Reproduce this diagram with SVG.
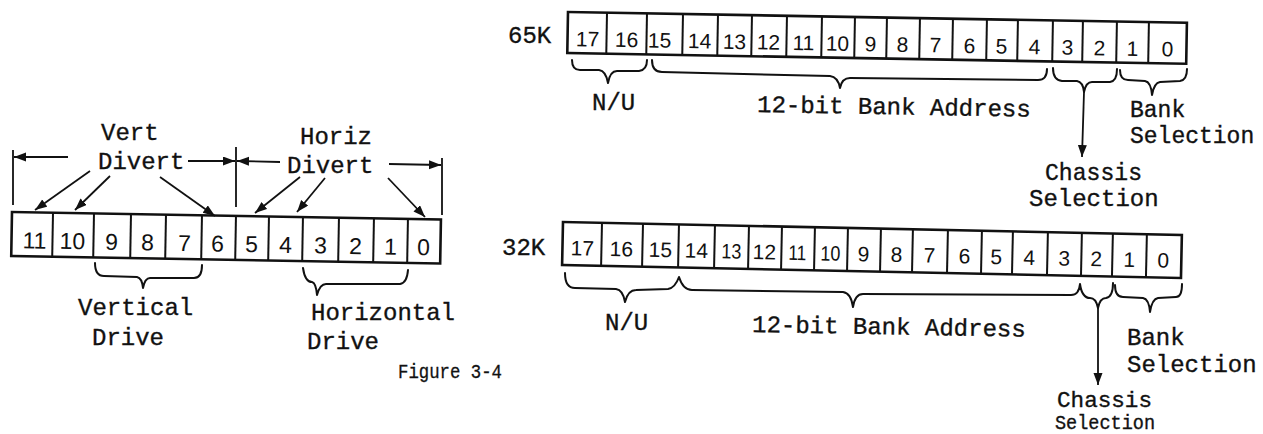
<svg xmlns="http://www.w3.org/2000/svg" width="1263" height="434" viewBox="0 0 1263 434">
<style>
.bg{fill:#fff}
.box{fill:none;stroke:#111;stroke-width:2.6}
.div{stroke:#111;stroke-width:2}
.dg{font-family:"Liberation Sans",Arial,sans-serif;fill:#111;text-anchor:middle}
.lb{font-family:"Liberation Mono","Courier New",monospace;font-size:24px;fill:#111;stroke:#111;stroke-width:0.35}
.br{fill:none;stroke:#111;stroke-width:2;stroke-linejoin:round;stroke-linecap:round}
.ln{fill:none;stroke:#111;stroke-width:1.8}
</style>
<defs>
<marker id="ah" markerUnits="userSpaceOnUse" markerWidth="13" markerHeight="10" refX="12" refY="4.5" orient="auto">
<path d="M0,0 L12,4.5 L0,9 z" fill="#111"/>
</marker>
</defs>
<rect class="bg" x="0" y="0" width="1263" height="434"/>

<g id="left-register" transform="rotate(1 12 212)">
<rect class="box" x="12" y="212" width="429" height="44"/>
<g class="div">
<line x1="53" y1="212" x2="53" y2="256"/><line x1="94" y1="212" x2="94" y2="256"/>
<line x1="131" y1="212" x2="131" y2="256"/><line x1="166" y1="212" x2="166" y2="256"/>
<line x1="202" y1="212" x2="202" y2="256"/><line x1="236" y1="212" x2="236" y2="256"/>
<line x1="269" y1="212" x2="269" y2="256"/><line x1="303" y1="212" x2="303" y2="256"/>
<line x1="339" y1="212" x2="339" y2="256"/><line x1="374" y1="212" x2="374" y2="256"/>
<line x1="408" y1="212" x2="408" y2="256"/>
</g>
<g class="dg" font-size="23">
<text x="35" y="248">11</text><text x="73" y="248">10</text><text x="112" y="248">9</text>
<text x="148" y="248">8</text><text x="185" y="248">7</text><text x="218" y="248">6</text>
<text x="252" y="248">5</text><text x="286" y="248">4</text><text x="321" y="248">3</text>
<text x="356" y="248">2</text><text x="391" y="248">1</text><text x="424" y="248">0</text>
</g>
</g>

<g id="left-labels">
<text class="lb" x="101" y="140">Vert</text>
<text class="lb" x="98" y="169">Divert</text>
<text class="lb" x="300" y="144">Horiz</text>
<text class="lb" x="287" y="173">Divert</text>
<text class="lb" x="78" y="315">Vertical</text>
<text class="lb" x="92" y="345">Drive</text>
<text class="lb" x="311" y="320">Horizontal</text>
<text class="lb" x="307" y="349">Drive</text>
</g>

<g id="left-connectors">
<line class="ln" x1="13" y1="150" x2="13" y2="205"/>
<line class="ln" x1="236" y1="147" x2="236" y2="207"/>
<line class="ln" x1="442" y1="158" x2="442" y2="215"/>
<line class="ln" x1="68" y1="157" x2="14" y2="157" marker-end="url(#ah)"/>
<line class="ln" x1="188" y1="161" x2="235" y2="161" marker-end="url(#ah)"/>
<line class="ln" x1="280" y1="162" x2="237" y2="161" marker-end="url(#ah)"/>
<line class="ln" x1="389" y1="164" x2="441" y2="165" marker-end="url(#ah)"/>
<line class="ln" x1="90" y1="171" x2="35" y2="210" marker-end="url(#ah)"/>
<line class="ln" x1="110" y1="176" x2="75" y2="210" marker-end="url(#ah)"/>
<line class="ln" x1="160" y1="177" x2="215" y2="216" marker-end="url(#ah)"/>
<line class="ln" x1="300" y1="177" x2="255" y2="213" marker-end="url(#ah)"/>
<line class="ln" x1="325" y1="178" x2="297" y2="212" marker-end="url(#ah)"/>
<line class="ln" x1="388" y1="178" x2="425" y2="217" marker-end="url(#ah)"/>
<path class="br" d="M95,263 Q95,276 104,276 L137,277 Q142,278 143,288 Q145,278 150,278 L194,278 Q202,278 202,265"/>
<path class="br" d="M303,268 Q305,282 312,282 Q316,283 317,295 Q320,284 326,284 L400,284 Q407,283 408,270"/>
</g>

<g id="fig-caption">
<text class="lb" x="398" y="378" style="font-size:20px;stroke-width:0.3" textLength="104" lengthAdjust="spacingAndGlyphs">Figure 3-4</text>
</g>

<g id="reg65k">
<text class="lb" x="508" y="43">65K</text>
<g transform="rotate(1 568 12)">
<rect class="box" x="568" y="12" width="619" height="41"/>
<g class="div">
<line x1="607" y1="12" x2="607" y2="53"/><line x1="647" y1="12" x2="647" y2="53"/>
<line x1="683" y1="12" x2="683" y2="53"/><line x1="718" y1="12" x2="718" y2="53"/>
<line x1="752" y1="12" x2="752" y2="53"/><line x1="787" y1="12" x2="787" y2="53"/>
<line x1="822" y1="12" x2="822" y2="53"/><line x1="855" y1="12" x2="855" y2="53"/>
<line x1="887" y1="12" x2="887" y2="53"/><line x1="920" y1="12" x2="920" y2="53"/>
<line x1="953" y1="12" x2="953" y2="53"/><line x1="987" y1="12" x2="987" y2="53"/>
<line x1="1018" y1="12" x2="1018" y2="53"/><line x1="1053" y1="12" x2="1053" y2="53"/>
<line x1="1083" y1="12" x2="1083" y2="53"/><line x1="1117" y1="12" x2="1117" y2="53"/>
<line x1="1149" y1="12" x2="1149" y2="53"/>
</g>
<g class="dg" font-size="21">
<text x="588" y="46">17</text><text x="627" y="46">16</text><text x="660" y="46">15</text>
<text x="700" y="46">14</text><text x="735" y="46">13</text><text x="769" y="46">12</text>
<text x="804" y="46">11</text><text x="838" y="46">10</text><text x="871" y="46">9</text>
<text x="903" y="46">8</text><text x="936" y="46">7</text><text x="970" y="46">6</text>
<text x="1002" y="46">5</text><text x="1035" y="46">4</text><text x="1068" y="46">3</text>
<text x="1100" y="46">2</text><text x="1133" y="46">1</text><text x="1168" y="46">0</text>
</g>
</g>
<text class="lb" x="592" y="110">N/U</text>
<text class="lb" x="757" y="112" transform="rotate(1 757 112)">12-bit Bank Address</text>
<text class="lb" x="1130" y="117" style="font-size:23px">Bank</text>
<text class="lb" x="1130" y="143" style="font-size:23px">Selection</text>
<text class="lb" x="1045" y="180" textLength="97" lengthAdjust="spacingAndGlyphs">Chassis</text>
<text class="lb" x="1029" y="206">Selection</text>
</g>

<g id="reg32k">
<text class="lb" x="502" y="255">32K</text>
<g transform="rotate(1.2 563 222)">
<rect class="box" x="563" y="222" width="619" height="43"/>
<g class="div">
<line x1="602" y1="222" x2="602" y2="265"/><line x1="643" y1="222" x2="643" y2="265"/>
<line x1="679" y1="222" x2="679" y2="265"/><line x1="715" y1="222" x2="715" y2="265"/>
<line x1="749" y1="222" x2="749" y2="265"/><line x1="782" y1="222" x2="782" y2="265"/>
<line x1="815" y1="222" x2="815" y2="265"/><line x1="848" y1="222" x2="848" y2="265"/>
<line x1="881" y1="222" x2="881" y2="265"/><line x1="913" y1="222" x2="913" y2="265"/>
<line x1="948" y1="222" x2="948" y2="265"/><line x1="982" y1="222" x2="982" y2="265"/>
<line x1="1013" y1="222" x2="1013" y2="265"/><line x1="1048" y1="222" x2="1048" y2="265"/>
<line x1="1082" y1="222" x2="1082" y2="265"/><line x1="1113" y1="222" x2="1113" y2="265"/>
<line x1="1147" y1="222" x2="1147" y2="265"/>
</g>
<g class="dg" font-size="21">
<text x="583" y="255">17</text><text x="622" y="255">16</text><text x="661" y="255">15</text>
<text x="697" y="255">14</text><text x="732" y="255" textLength="20" lengthAdjust="spacingAndGlyphs">13</text><text x="765" y="255">12</text>
<text x="798" y="255" textLength="18" lengthAdjust="spacingAndGlyphs">11</text><text x="831" y="255" textLength="20" lengthAdjust="spacingAndGlyphs">10</text><text x="864" y="255">9</text>
<text x="897" y="255">8</text><text x="930" y="255">7</text><text x="965" y="255">6</text>
<text x="997" y="255">5</text><text x="1030" y="255">4</text><text x="1065" y="255">3</text>
<text x="1097" y="255">2</text><text x="1130" y="255">1</text><text x="1164" y="255">0</text>
</g>
</g>
<text class="lb" x="605" y="330">N/U</text>
<text class="lb" x="752" y="332" transform="rotate(1 752 332)">12-bit Bank Address</text>
<text class="lb" x="1127" y="345">Bank</text>
<text class="lb" x="1127" y="372">Selection</text>
<text class="lb" x="1057" y="407" style="font-size:22px" textLength="95" lengthAdjust="spacingAndGlyphs">Chassis</text>
<text class="lb" x="1055" y="429" style="font-size:20px" textLength="100" lengthAdjust="spacingAndGlyphs">Selection</text>
</g>

<g id="connectors">
<path class="br" d="M572,60 Q572,70 580,70 L599,70 Q606,71 608,83 Q610,71 617,71 L639,71 Q647,70 647,60"/>
<path class="br" d="M652,60 Q652,72 662,72 L830,76 Q838,77 840,88 Q842,78 850,78 L1038,80 Q1047,80 1047,69"/>
<path class="br" d="M1053,68 Q1053,80 1062,81 L1077,81 Q1083,82 1084,92 Q1086,82 1092,82 L1110,82 Q1117,81 1117,69"/>
<path class="br" d="M1120,70 Q1120,80 1128,80 L1145,81 Q1151,82 1152,95 Q1154,83 1160,82 L1180,81 Q1187,80 1187,69"/>
<line class="ln" x1="1084" y1="92" x2="1082" y2="157" marker-end="url(#ah)"/>
<path class="br" d="M565,273 Q565,288 575,288 L616,289 Q623,290 625,302 Q628,290 636,290 L668,289 Q675,288 679,277 Q683,290 692,290 L843,292 Q851,293 853,307 Q855,294 863,294 L1071,295 Q1079,295 1080,284 Q1082,298 1090,298 Q1096,298 1098,308 Q1100,298 1106,298 Q1113,297 1113,283"/>
<path class="br" d="M1115,285 Q1115,297 1123,297 L1143,298 Q1149,299 1150,312 Q1152,299 1158,298 L1176,297 Q1182,297 1182,284"/>
<line class="ln" x1="1098" y1="308" x2="1098" y2="385" marker-end="url(#ah)"/>
</g>
</svg>
